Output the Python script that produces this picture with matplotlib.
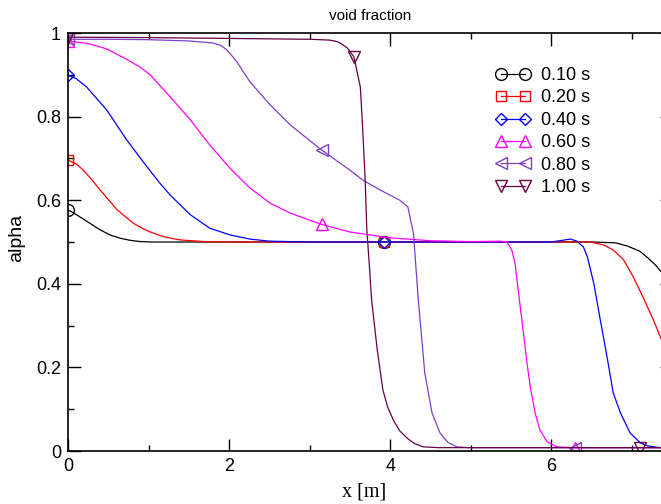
import numpy as np
import matplotlib
matplotlib.use("Agg")
import matplotlib.pyplot as plt

labels = ["0.10 s", "0.20 s", "0.40 s", "0.60 s", "0.80 s", "1.00 s"]

x_010 = [0, 0.1, 0.27, 0.4, 0.52, 0.65, 0.77, 0.9, 1.05, 3.92, 6.5, 6.8, 6.95, 7.1, 7.2, 7.3, 7.37, 7.5]
y_010 = [0.577, 0.566, 0.545, 0.529, 0.517, 0.509, 0.504, 0.501, 0.5, 0.5, 0.5, 0.498, 0.49, 0.478, 0.462, 0.444, 0.428, 0.40]

x_020 = [0, 0.1, 0.19, 0.30, 0.40, 0.61, 0.81, 0.92, 1.02, 1.2, 1.39, 1.7, 2.0, 3.92, 6.48, 6.65, 6.77, 6.9,
         7.02, 7.14, 7.27, 7.37, 7.5]
y_020 = [0.696, 0.687, 0.672, 0.648, 0.624, 0.577, 0.545, 0.533, 0.524, 0.512, 0.505, 0.501, 0.5, 0.5, 0.5, 0.493, 0.481, 0.457,
         0.416, 0.368, 0.313, 0.266, 0.22]

x_040 = [0, 0.1, 0.23, 0.48, 0.73, 0.98, 1.14, 1.27, 1.52, 1.76, 2.01, 2.26, 2.5, 3.0, 3.92, 6.0, 6.24, 6.32,
         6.4, 6.45, 6.53, 6.61, 6.7, 6.77, 6.86, 6.98, 7.11, 7.2, 7.35, 7.5]
y_040 = [0.899, 0.891, 0.871, 0.816, 0.744, 0.68, 0.641, 0.612, 0.565, 0.533, 0.517, 0.507, 0.502, 0.5, 0.5, 0.5, 0.507, 0.502,
         0.488, 0.464, 0.40, 0.313, 0.218, 0.139, 0.091, 0.043, 0.019, 0.012, 0.008, 0.006]

x_060 = [0, 0.25, 0.48, 0.7, 0.89, 1.02, 1.27, 1.52, 1.76, 2.01, 2.26, 2.51, 2.76, 3.15, 3.5, 4.0, 4.5, 5.0,
         5.37, 5.45, 5.51, 5.55, 5.61, 5.65, 5.70, 5.74, 5.8, 5.86, 5.95, 6.07, 6.3, 7.5]
y_060 = [0.981, 0.975, 0.962, 0.94, 0.919, 0.90, 0.847, 0.792, 0.732, 0.677, 0.629, 0.593, 0.569, 0.542, 0.524, 0.51, 0.503, 0.501,
         0.502, 0.5, 0.481, 0.45, 0.354, 0.29, 0.21, 0.153, 0.091, 0.05, 0.022, 0.01, 0.008, 0.008]

x_080 = [0, 0.5, 1.0, 1.5, 1.8, 1.9, 1.97, 2.03, 2.10, 2.26, 2.51, 2.76, 3.15, 3.5, 3.66, 3.9, 4.12, 4.22, 4.29, 4.35,
         4.43, 4.52, 4.62, 4.72, 4.83, 5.0, 6.3, 7.5]
y_080 = [0.985, 0.985, 0.984, 0.981, 0.976, 0.970, 0.96, 0.947, 0.93, 0.883, 0.828, 0.78, 0.72, 0.672, 0.648, 0.622, 0.60, 0.584, 0.52, 0.361,
         0.187, 0.091, 0.043, 0.02, 0.01, 0.008, 0.008, 0.008]

x_100 = [0, 1.0, 2.0, 3.0, 3.25, 3.33, 3.38, 3.47, 3.55, 3.63, 3.66, 3.69, 3.71, 3.74, 3.77, 3.84, 3.91, 3.97, 4.04, 4.12, 4.21,
         4.3, 4.41, 4.6, 7.1, 7.5]
y_100 = [0.99, 0.989, 0.987, 0.985, 0.983, 0.980, 0.976, 0.964, 0.943, 0.871, 0.768, 0.648, 0.53, 0.45, 0.361, 0.242, 0.146, 0.105,
         0.074, 0.048, 0.031, 0.018, 0.01, 0.008, 0.008, 0.008]

mark_010 = [0, 3.92]
mark_020 = [0, 3.92]
mark_040 = [0, 3.92]
mark_060 = [0, 3.15, 6.3]
mark_080 = [0, 3.15, 6.3]
mark_100 = [0, 3.55, 7.1]

series = [
    (x_010, y_010, mark_010, "black", "o"),
    (x_020, y_020, mark_020, "red", "s"),
    (x_040, y_040, mark_040, "blue", "D"),
    (x_060, y_060, mark_060, "magenta", "^"),
    (x_080, y_080, mark_080, "#7f3fc4", "<"),
    (x_100, y_100, mark_100, "#660044", "v"),
]
msizes = {"o": 8.5, "s": 7.5, "D": 6.5, "^": 8.5, "<": 8.5, "v": 8.5}

W, H = 661, 504
fig = plt.figure(figsize=(W / 100, H / 100), dpi=100)
ax_l, ax_r, ax_t, ax_b = 68, 672, 33, 451
ax = fig.add_axes([ax_l / W, (H - ax_b) / H, (ax_r - ax_l) / W, (ax_b - ax_t) / H])

for (xs, ys, ms, c, m), lab in zip(series, labels):
    xs = np.asarray(xs)
    idx = [int(np.argmin(np.abs(xs - v))) for v in ms]
    ax.plot(xs, ys, color=c, lw=0.9, marker=m, markevery=idx, ms=msizes[m],
            mfc="none", mec=c, mew=1.0, label=lab)

ax.set_xlim(0, 7.5)
ax.set_ylim(0, 1)
ax.set_xticks([0, 2, 4, 6])
ax.set_xticks([1, 3, 5, 7], minor=True)
ax.set_yticks([0, 0.2, 0.4, 0.6, 0.8, 1])
ax.set_yticklabels(["0", "0.2", "0.4", "0.6", "0.8", "1"])
ax.set_yticks([0.1, 0.3, 0.5, 0.7, 0.9], minor=True)
ax.tick_params(which="both", direction="in", top=True, right=True, width=1.0)
ax.tick_params(which="major", length=9, labelsize=13, pad=5)
ax.tick_params(which="minor", length=4.5)
for lab in ax.get_xticklabels() + ax.get_yticklabels():
    lab.set_family("Liberation Sans")
for s in ax.spines.values():
    s.set_linewidth(1.2)

ax.set_title("void fraction", fontsize=11, family="Liberation Sans", pad=9)
ax.set_xlabel("x [m]", fontsize=14.5, family="Liberation Serif")
ax.xaxis.set_label_coords((364.5 - ax_l) / (ax_r - ax_l), (ax_b - 482) / (ax_b - ax_t))
ax.set_ylabel("alpha", fontsize=14, family="Liberation Sans")
ax.yaxis.set_label_coords((25 - ax_l) / (ax_r - ax_l), (ax_b - 238) / (ax_b - ax_t))

leg = ax.legend(loc="upper left", bbox_to_anchor=(496 / W, (H - 67) / H), bbox_transform=fig.transFigure,
                frameon=False, numpoints=2, handlelength=1.9, handletextpad=0.6,
                labelspacing=0.3, borderpad=0, borderaxespad=0,
                prop={"family": "Liberation Sans", "size": 13})

fig.savefig("out.png", dpi=100)
